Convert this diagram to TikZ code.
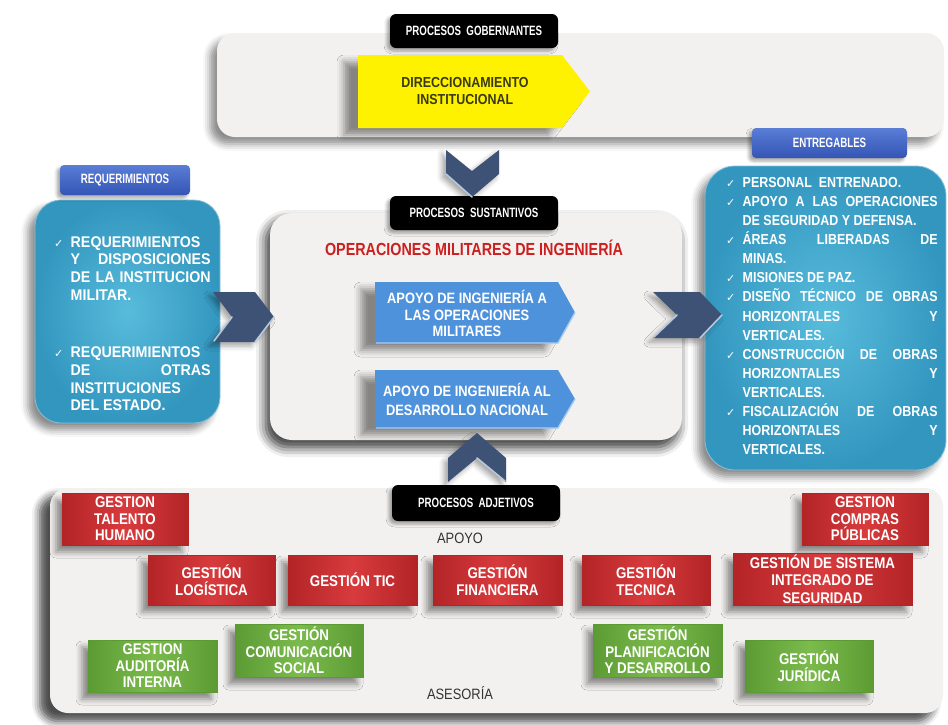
\documentclass[tikz,border=0pt]{standalone}
\usepackage{fontspec}
\setmainfont{Liberation Sans}
\newfontfamily\wideb[FakeStretch=0.92]{Liberation Sans}
\newfontfamily\narrowb[FakeStretch=0.86]{Liberation Sans}
\newfontfamily\titleb[FakeStretch=0.82]{Liberation Sans}
\newfontfamily\tagb[FakeStretch=0.72]{Liberation Sans}
\newfontfamily\symb{DejaVu Sans}
\usetikzlibrary{shadows.blur}

\definecolor{panelgray}{HTML}{F3F1EF}
\definecolor{tealdark}{HTML}{3396BF}
\definecolor{teallight}{HTML}{58BCDC}
\definecolor{tagblue}{HTML}{3455B5}
\definecolor{tagbluelight}{HTML}{5A7DD6}
\definecolor{chevnavy}{HTML}{3D5275}
\definecolor{chevedge}{HTML}{B9C7DA}
\definecolor{boxred}{HTML}{D83B3D}
\definecolor{boxreddark}{HTML}{B32427}
\definecolor{boxgreen}{HTML}{7BBB4C}
\definecolor{boxgreendark}{HTML}{5C9B33}
\definecolor{arrowblue}{HTML}{4F92DC}
\definecolor{arrowedge}{HTML}{A8CCF0}
\definecolor{titlered}{HTML}{CC1F1F}
\definecolor{olivetext}{HTML}{3A3A10}
\definecolor{captiongray}{HTML}{333333}

% check mark followed by its hanging indent
\newcommand{\tick}{\makebox[16.5pt][l]{\symb\fontsize{11}{11}\selectfont ✓}}
% a justified line of given width
\newcommand{\jline}[2]{\makebox[#1][s]{#2}}
\newcommand{\ind}{\hspace*{16.5pt}}

\tikzset{
  softshadow/.style={blur shadow={shadow xshift=-7pt, shadow yshift=-7pt,
      shadow blur radius=7pt, shadow opacity=45}},
  panel/.style={rectangle, rounded corners=18pt, fill=panelgray, inner sep=0pt, softshadow},
  tagbox/.style={rectangle, rounded corners=6pt, fill=black, text=white, inner sep=0pt,
      font=\tagb\bfseries\fontsize{13.5}{13.5}\selectfont,
      blur shadow={shadow xshift=-3pt, shadow yshift=-3pt, shadow blur radius=3pt, shadow opacity=35}},
  bluetag/.style={rectangle, rounded corners=4pt, top color=tagbluelight, bottom color=tagblue,
      text=white, inner sep=0pt, font=\tagb\bfseries\fontsize{13.5}{13.5}\selectfont,
      blur shadow={shadow xshift=-3pt, shadow yshift=-3pt, shadow blur radius=3pt, shadow opacity=35}},
  tealbox/.style={rectangle, rounded corners=26pt, inner color=teallight, outer color=tealdark,
      draw=tealdark!60!white, line width=0.8pt, inner sep=0pt, softshadow},
  listtext/.style={align=left, inner sep=0pt, text=white},
  gbox/.style={rectangle, inner sep=0pt, text=white, align=center,
      font=\narrowb\bfseries\fontsize{15.5}{16.5}\selectfont,
      blur shadow={shadow xshift=-6pt, shadow yshift=-7pt, shadow blur radius=6pt, shadow opacity=45}},
  redbox/.style={gbox, draw=boxreddark, line width=0.8pt,
      left color=boxreddark, right color=boxreddark, middle color=boxred},
  greenbox/.style={gbox, draw=boxgreendark, line width=0.8pt,
      left color=boxgreendark, right color=boxgreendark, middle color=boxgreen},
  arrowtext/.style={align=center, inner sep=0pt, text=white,
      font=\narrowb\bfseries\fontsize{15}{16.5}\selectfont},
  chevron/.style={fill=chevnavy,
      blur shadow={shadow xshift=-4pt, shadow yshift=-4pt, shadow blur radius=5pt, shadow opacity=35}},
  chevlight/.style={draw=chevedge, line width=1.6pt, line cap=round},
  caption/.style={inner sep=0pt, text=captiongray, font=\narrowb\fontsize{15}{15}\selectfont}
}

\begin{document}
\begin{tikzpicture}[x=1pt,y=-1pt]
\useasboundingbox (0,0) rectangle (948,724);

% ---------------- governing processes ----------------
\node[panel, minimum width=727pt, minimum height=104pt] (govpanel) at (580.5,85) {};
\path[fill=yellow, blur shadow={shadow xshift=-14pt, shadow yshift=-7pt, shadow blur radius=7pt, shadow opacity=45}]
  (358,55) -- (562,55) -- (590,91.5) -- (562,128) -- (358,128) -- cycle;
\node[align=center, inner sep=0pt, text=olivetext, font=\narrowb\bfseries\fontsize{14.5}{17}\selectfont]
  (dirtext) at (465,91.5) {DIRECCIONAMIENTO\\INSTITUCIONAL};
\node[tagbox, minimum width=168pt, minimum height=34pt] (govtag) at (474,31) {PROCESOS\ \ GOBERNANTES};

% ---------------- substantive processes ----------------
\node[panel, rounded corners=22pt, minimum width=412pt, minimum height=227pt,
      blur shadow={shadow xshift=-4pt, shadow yshift=-7pt, shadow blur radius=10pt, shadow opacity=50}]
  (subpanel) at (476,326.5) {};
\node[tagbox, minimum width=168pt, minimum height=34pt] (subtag) at (474,213) {PROCESOS\ \ SUSTANTIVOS};
\node[inner sep=0pt, text=titlered, font=\titleb\bfseries\fontsize{17.5}{17.5}\selectfont]
  (optitle) at (474,248) {OPERACIONES MILITARES DE INGENIERÍA};

\path[fill=arrowblue, blur shadow={shadow xshift=-14pt, shadow yshift=-7pt, shadow blur radius=7pt, shadow opacity=45}]
  (375,282) -- (558,282) -- (575,312.5) -- (558,343) -- (375,343) -- cycle;
\draw[arrowedge, line width=1.4pt] (376,343) -- (558,343) -- (575,312.5);
\node[arrowtext] (opmil) at (467,313.5) {APOYO DE INGENIERÍA A\\LAS OPERACIONES\\MILITARES};

\path[fill=arrowblue, blur shadow={shadow xshift=-14pt, shadow yshift=-7pt, shadow blur radius=7pt, shadow opacity=45}]
  (375,370) -- (558,370) -- (575,399) -- (558,428) -- (375,428) -- cycle;
\draw[arrowedge, line width=1.4pt] (376,428) -- (558,428) -- (575,399);
\node[arrowtext, font=\narrowb\bfseries\fontsize{15}{19}\selectfont] (desnac) at (467,399) {APOYO DE INGENIERÍA AL\\DESARROLLO NACIONAL};

% ---------------- requirements ----------------
\node[tealbox, minimum width=185pt, minimum height=223pt] (reqbox) at (127.5,311.5) {};
\node[bluetag, minimum width=130pt, minimum height=30pt] (reqtag) at (125,180) {REQUERIMIENTOS};
\node[listtext, anchor=north west, font=\wideb\bfseries\fontsize{15.5}{17.7}\selectfont] (reqlist) at (54,236) {%
\tick REQUERIMIENTOS\\
\ind\jline{140pt}{Y DISPOSICIONES}\\
\ind\jline{140pt}{DE LA INSTITUCION}\\
\ind MILITAR.\\[40pt]
\tick REQUERIMIENTOS\\
\ind\jline{140pt}{DE OTRAS}\\
\ind INSTITUCIONES\\
\ind DEL ESTADO.};

% ---------------- deliverables ----------------
\node[tealbox, rounded corners=30pt, minimum width=241pt, minimum height=304pt] (delbox) at (825.5,318) {};
\node[bluetag, minimum width=155pt, minimum height=30pt] (deltag) at (829.5,143) {ENTREGABLES};
\node[listtext, anchor=north west, font=\narrowb\bfseries\fontsize{14.5}{19.1}\selectfont] (dellist) at (726,177) {%
\tick PERSONAL\ \ ENTRENADO.\\
\tick\jline{195pt}{APOYO A LAS OPERACIONES}\\
\ind DE SEGURIDAD Y DEFENSA.\\
\tick\jline{195pt}{ÁREAS LIBERADAS DE}\\
\ind MINAS.\\
\tick MISIONES DE PAZ.\\
\tick\jline{195pt}{DISEÑO TÉCNICO DE OBRAS}\\
\ind\jline{195pt}{HORIZONTALES Y}\\
\ind VERTICALES.\\
\tick\jline{195pt}{CONSTRUCCIÓN DE OBRAS}\\
\ind\jline{195pt}{HORIZONTALES Y}\\
\ind VERTICALES.\\
\tick\jline{195pt}{FISCALIZACIÓN DE OBRAS}\\
\ind\jline{195pt}{HORIZONTALES Y}\\
\ind VERTICALES.};

% ---------------- chevrons between the blocks ----------------
\path[chevron] (446,150) -- (472,171) -- (499,150) -- (499,174) -- (472,197) -- (446,174) -- cycle;
\draw[chevlight] (446,174) -- (472,197);
\path[chevron] (213,292) -- (255,292) -- (274,317) -- (255,342) -- (213,342) -- (232,317) -- cycle;
\draw[chevlight] (232,317) -- (214,341) (255,342) -- (274,317);
\path[chevron] (653,292) -- (700,292) -- (722,315) -- (700,338) -- (653,338) -- (677,315) -- cycle;
\draw[chevlight] (677,315) -- (654,337) (700,338) -- (722,315);

% ---------------- adjective processes ----------------
\node[panel, minimum width=893pt, minimum height=225pt,
      blur shadow={shadow xshift=-10pt, shadow yshift=-8pt, shadow blur radius=8pt, shadow opacity=45}]
  (adjpanel) at (496.5,600.5) {};
\path[chevron] (448,482) -- (477,458) -- (506,482) -- (506,458) -- (477,433) -- (448,458) -- cycle;
\draw[chevlight] (477,458) -- (505,481);
\node[tagbox, minimum width=168pt, minimum height=36pt] (adjtag) at (476,503) {PROCESOS\ \ ADJETIVOS};
\node[caption] (apoyo) at (460,538) {APOYO};
\node[caption] (asesoria) at (460,693) {ASESORÍA};

\node[redbox, minimum width=126pt, minimum height=52pt] (talento) at (125,519) {GESTION\\TALENTO\\HUMANO};
\node[redbox, minimum width=126pt, minimum height=52pt] (compras) at (865,519) {GESTION\\COMPRAS\\PÚBLICAS};
\node[redbox, minimum width=127pt, minimum height=50pt] (logistica) at (211.5,580) {GESTIÓN\\LOGÍSTICA};
\node[redbox, minimum width=129pt, minimum height=50pt] (tic) at (352.5,580) {GESTIÓN TIC};
\node[redbox, minimum width=129pt, minimum height=50pt] (financiera) at (497.5,580) {GESTIÓN\\FINANCIERA};
\node[redbox, minimum width=128pt, minimum height=50pt] (tecnica) at (646,580) {GESTIÓN\\TECNICA};
\node[redbox, minimum width=179pt, minimum height=52pt, font=\narrowb\bfseries\fontsize{15.5}{17.5}\selectfont]
  (sistema) at (822.5,579) {GESTIÓN DE SISTEMA\\INTEGRADO DE\\SEGURIDAD};

\node[greenbox, minimum width=129pt, minimum height=52pt] (auditoria) at (152.5,666) {GESTION\\AUDITORÍA\\INTERNA};
\node[greenbox, minimum width=128pt, minimum height=53pt] (comunicacion) at (299,650.5) {GESTIÓN\\COMUNICACIÓN\\SOCIAL};
\node[greenbox, minimum width=129pt, minimum height=53pt] (planificacion) at (657.5,650.5) {GESTIÓN\\PLANIFICACIÓN\\Y DESARROLLO};
\node[greenbox, minimum width=128pt, minimum height=52pt] (juridica) at (809,666) {GESTIÓN\\JURÍDICA};
\end{tikzpicture}
\end{document}
